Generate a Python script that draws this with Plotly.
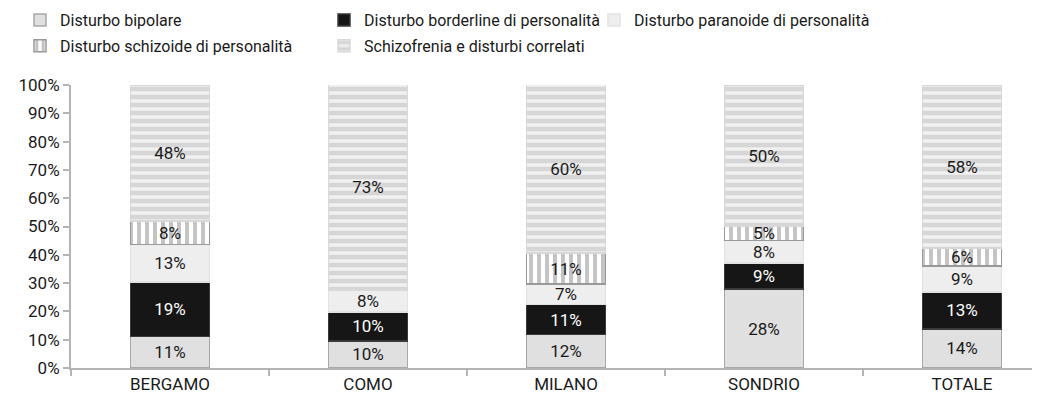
import plotly.graph_objects as go

categories = ["BERGAMO", "COMO", "MILANO", "SONDRIO", "TOTALE"]
series_names = [
    "Disturbo bipolare",
    "Disturbo borderline di personalità",
    "Disturbo paranoide di personalità",
    "Disturbo schizoide di personalità",
    "Schizofrenia e disturbi correlati",
]
bipolare = [11.2, 9.6, 11.8, 27.9, 13.8]
borderline = [19.2, 10.2, 10.6, 9.2, 13.1]
paranoide = [13.3, 7.7, 7.2, 8.0, 9.1]
schizoide = [8.2, 0.0, 11.0, 5.0, 6.2]
schizofrenia = [48.1, 72.6, 59.6, 49.9, 57.8]
y_ticks = [0, 10, 20, 30, 40, 50, 60, 70, 80, 90, 100]

values = [bipolare, borderline, paranoide, schizoide, schizofrenia]

styles = [
    dict(color="#e0e0e0", line="#a8a8a8", pattern=None, text="#1a1a1a", legend="legend"),
    dict(color="#161616", line="#3a3a3a", pattern=None, text="#ffffff", legend="legend2"),
    dict(color="#eeeeee", line="#e2e2e2", pattern=None, text="#1a1a1a", legend="legend3"),
    dict(color="#ffffff", line="#999999",
         pattern=dict(shape="|", fgcolor="#c4c4c4", bgcolor="#ffffff", size=8, solidity=0.5, fillmode="replace"),
         text="#1a1a1a", legend="legend"),
    dict(color="#f0f0f0", line="#d8d8d8",
         pattern=dict(shape="-", fgcolor="#d6d6d6", bgcolor="#f0f0f0", size=8, solidity=0.55, fillmode="replace"),
         text="#1a1a1a", legend="legend2"),
]

FONT = "Roboto"

# page offset introduced by the default body margin
OFF = 8
W, H = 1040 - OFF, 406 - OFF
# plot area in page pixels
L, R, T, B = 71, 1040, 85, 368


def px_x(px):
    return (px - L) / (R - L)


def px_y(py):
    return (B - py) / (B - T)


fig = go.Figure()
for i, (name, vals, st) in enumerate(zip(series_names, values, styles)):
    labels = [f"{round(v):d}%" if v > 0 else "" for v in vals]
    marker = dict(color=st["color"], line=dict(color=st["line"], width=1.5))
    if st["pattern"] is not None:
        marker["pattern"] = st["pattern"]
    fig.add_trace(go.Bar(
        x=categories,
        y=[v / 100 for v in vals],
        name=name,
        text=labels,
        texttemplate="%{text}",
        textposition="inside",
        insidetextanchor="middle",
        textangle=0,
        constraintext="none",
        textfont=dict(family=FONT, size=17, color=st["text"]),
        marker=marker,
        width=0.4,
        legend=st["legend"],
        legendgroup=f"g{i}",
        hoverinfo="skip",
    ))

legend_common = dict(
    yanchor="top", xanchor="left",
    orientation="v", bgcolor="rgba(0,0,0,0)",
    font=dict(family=FONT, size=16, color="#1a1a1a"),
    tracegroupgap=2, itemwidth=30,
)

fig.update_layout(
    width=W, height=H,
    margin=dict(l=L - OFF, r=W - (R - OFF), t=T - OFF, b=H - (B - OFF), autoexpand=False),
    paper_bgcolor="white", plot_bgcolor="white",
    barmode="stack",
    uniformtext=dict(minsize=17, mode="show"),
    font=dict(family=FONT, size=17, color="#1a1a1a"),
    legend=dict(x=px_x(20), y=px_y(3), **legend_common),
    legend2=dict(x=px_x(324), y=px_y(3), **legend_common),
    legend3=dict(x=px_x(594), y=px_y(3), **legend_common),
    showlegend=True,
)

fig.update_xaxes(
    type="category",
    range=[-0.5, 4.394],
    automargin=False,
    showline=True, linecolor="#b4b4b4", linewidth=2,
    ticks="outside", tickson="boundaries", ticklen=6, tickcolor="#b4b4b4", tickwidth=2,
    tickfont=dict(family=FONT, size=17, color="#1a1a1a"),
    showgrid=False,
)
fig.update_yaxes(
    range=[0, 1],
    automargin=False,
    tickvals=[t / 100 for t in y_ticks],
    ticktext=[f"{t}%" for t in y_ticks],
    showline=True, linecolor="#b4b4b4", linewidth=2,
    ticks="outside", ticklen=6, tickcolor="#b4b4b4", tickwidth=2,
    tickfont=dict(family=FONT, size=17, color="#1a1a1a"),
    showgrid=False, zeroline=False,
)

fig.write_html("out.html")
